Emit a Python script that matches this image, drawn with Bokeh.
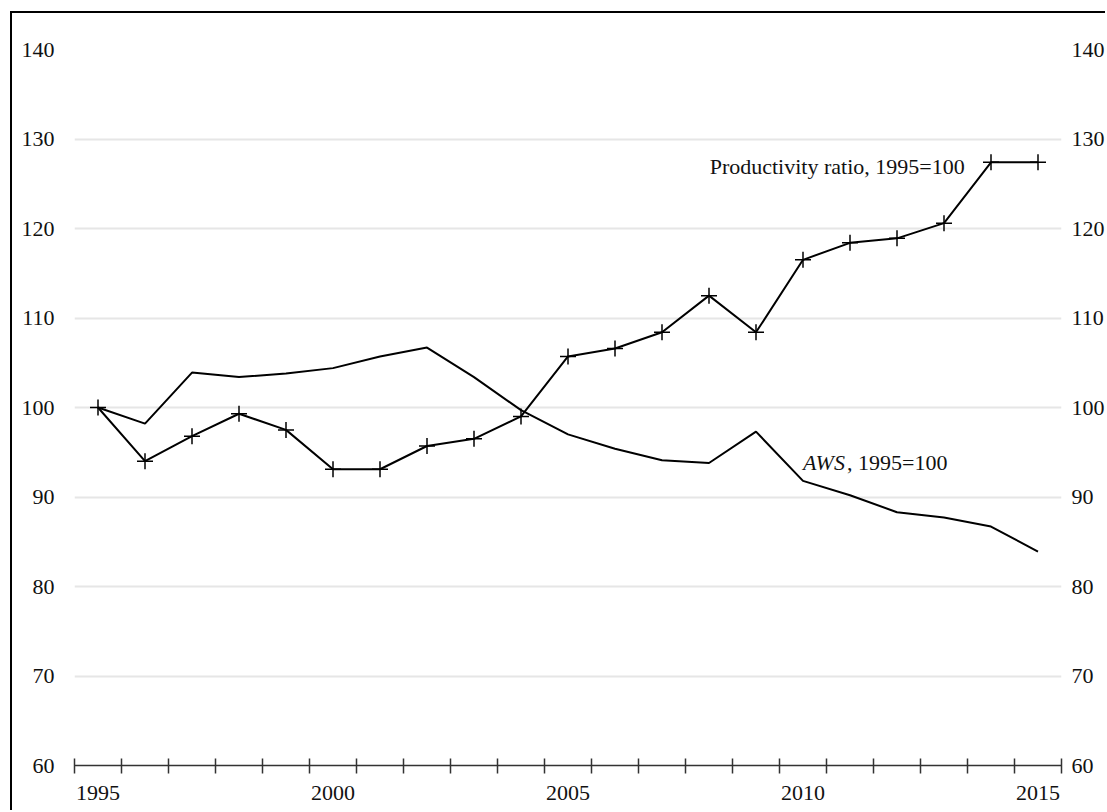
from bokeh.embed import file_html
from bokeh.models import ColumnDataSource, FixedTicker, Label, LinearAxis, Range1d
from bokeh.plotting import figure
from bokeh.resources import INLINE

# Data (1995 = 100)
years = list(range(1995, 2016))
productivity = [100.0, 94.0, 96.8, 99.3, 97.5, 93.1, 93.1, 95.7, 96.5, 99.0, 105.7,
                106.6, 108.4, 112.5, 108.4, 116.5, 118.4, 118.9, 120.6, 127.4, 127.4]
aws = [100.0, 98.2, 103.9, 103.4, 103.8, 104.4, 105.7, 106.7, 103.4, 99.7, 97.0,
       95.4, 94.1, 93.8, 97.3, 91.8, 90.2, 88.3, 87.7, 86.7, 83.9]
year_labels = [1995, 2000, 2005, 2010, 2015]
y_ticks = [60, 70, 80, 90, 100, 110, 120, 130, 140]

source = ColumnDataSource(data={"year": years, "productivity": productivity, "aws": aws})

FONT = "Liberation Serif"
TEXT = "#111111"

p = figure(
    width=1095,
    height=799,
    x_range=Range1d(1994.5, 2015.5),
    y_range=Range1d(60, 140),
    title_location=None,
    toolbar_location=None,
    output_backend="svg",
    min_border_left=62,
    min_border_right=46,
    min_border_top=36,
    min_border_bottom=47,
)
# outer frame of the chart: only the left and top edges are visible in the crop
p.styles = {
    "border-left": "2px solid #000",
    "border-top": "2px solid #000",
    "margin-left": "10px",
    "margin-top": "11px",
}
p.outline_line_color = None
p.background_fill_color = "white"
p.border_fill_color = "white"

# Category style x axis: marks between years, labels every five years
xaxis = p.xaxis[0]
xaxis.ticker = FixedTicker(ticks=year_labels, minor_ticks=[1994.5 + i for i in range(22)])
xaxis.major_tick_in = 0
xaxis.major_tick_out = 0
xaxis.minor_tick_in = 7
xaxis.minor_tick_out = 8
xaxis.minor_tick_line_color = "#333333"
xaxis.minor_tick_line_width = 1.5
xaxis.axis_line_color = "#333333"
xaxis.axis_line_width = 1.5
xaxis.major_label_standoff = 12

yaxis = p.yaxis[0]
yaxis.ticker = FixedTicker(ticks=y_ticks)
yaxis.major_label_standoff = 20

raxis = LinearAxis(ticker=FixedTicker(ticks=y_ticks), major_label_standoff=10)
p.add_layout(raxis, "right")

for ax in (xaxis, yaxis, raxis):
    ax.major_label_text_font = FONT
    ax.major_label_text_font_size = "22px"
    ax.major_label_text_color = TEXT
for ax in (yaxis, raxis):
    ax.axis_line_color = None
    ax.major_tick_line_color = None
    ax.minor_tick_line_color = None
    ax.major_tick_in = 0
    ax.major_tick_out = 0
    ax.minor_tick_in = 0
    ax.minor_tick_out = 0

p.xgrid.visible = False
p.ygrid.grid_line_color = "#e6e6e6"
p.ygrid.grid_line_width = 2

# Series
p.line("year", "aws", source=source, line_color="black", line_width=2)
p.line("year", "productivity", source=source, line_color="black", line_width=2)
p.scatter("year", "productivity", source=source, marker="cross", size=16,
          line_color="black", line_width=1.5)

# Direct labels
p.add_layout(Label(x=2013.44, y=126.9, text="Productivity ratio, 1995=100",
                   text_font=FONT, text_font_size="22px", text_color=TEXT,
                   text_align="right", text_baseline="middle"))
p.add_layout(Label(x=2010.0, y=93.8, text="AWS", text_font=FONT,
                   text_font_size="22px", text_font_style="italic", text_color=TEXT,
                   text_align="left", text_baseline="middle"))
p.add_layout(Label(x=2010.0, y=93.8, x_offset=44, text=", 1995=100", text_font=FONT,
                   text_font_size="22px", text_color=TEXT,
                   text_align="left", text_baseline="middle"))

open("out.html", "w").write(file_html(p, INLINE))
